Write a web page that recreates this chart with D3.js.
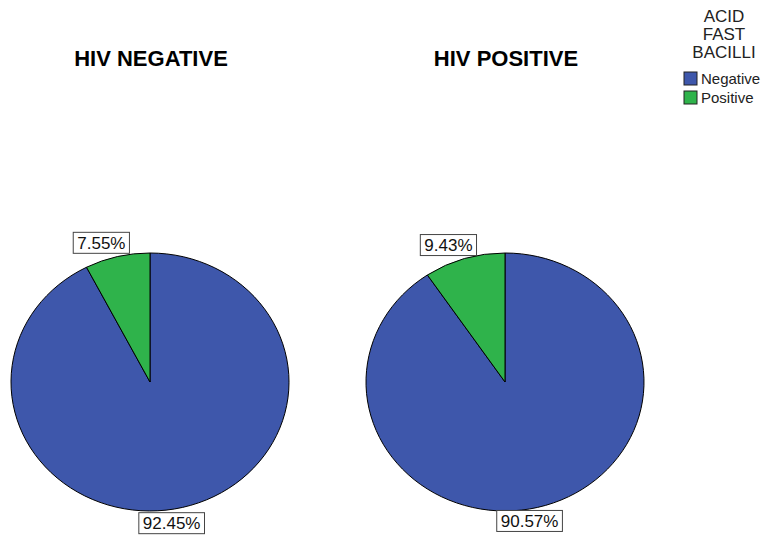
<!DOCTYPE html>
<html>
<head>
<meta charset="utf-8">
<style>
  body { margin: 0; background: #fff; }
  text { font-family: Arial, "Liberation Sans", sans-serif; }
  .slice { stroke: #000; stroke-width: 1; vector-effect: non-scaling-stroke; }
  .lbl rect { fill: #fff; stroke: #444; stroke-width: 1; }
</style>
</head>
<body>
<script src="https://d3js.org/d3.v7.min.js"></script>
<script>
// data
var panels = ["HIV NEGATIVE", "HIV POSITIVE"];
var categories = ["Negative", "Positive"];
var negValues = [92.45, 7.55];
var posValues = [90.57, 9.43];
var legendTitle = ["ACID", "FAST", "BACILLI"];
var colors = ["#3e57ab", "#2fb34b"];

var width = 769, height = 538;
var rx = 139, ry = 129, cy = 382;

var svg = d3.select("body").append("svg")
    .attr("width", width)
    .attr("height", height);

var color = d3.scaleOrdinal().domain(categories).range(colors);
var cx = d3.scalePoint().domain(panels).range([150, 505]);

var pie = d3.pie().sort(null).value(function(d) { return d; });
var arc = d3.arc().innerRadius(0).outerRadius(rx);

[negValues, posValues].forEach(function(vals, p) {
    var name = panels[p];
    var x0 = cx(name);

    svg.append("text")
        .attr("x", x0 + 1)
        .attr("y", 66)
        .attr("text-anchor", "middle")
        .attr("font-size", 22)
        .attr("font-weight", "bold")
        .text(name);

    var g = svg.append("g")
        .attr("transform", "translate(" + x0 + "," + cy + ") scale(1," + (ry / rx) + ")");

    var arcs = pie(vals);
    g.selectAll("path")
        .data(arcs)
        .enter().append("path")
        .attr("class", "slice")
        .attr("fill", function(d, i) { return color(categories[i]); })
        .attr("d", arc);

    // value labels
    var lbl = svg.selectAll(".lbl-" + p)
        .data(arcs)
        .enter().append("g")
        .attr("class", "lbl lbl-" + p)
        .attr("transform", function(d) {
            var a = (d.startAngle + d.endAngle) / 2;
            var x = x0 + rx * Math.sin(a) - 16 + (p === 0 && Math.cos(a) < 0 ? 5 : 0);
            var y = cy - ry * 1.11 * Math.cos(a) + (Math.cos(a) < 0 ? 2 : 0);
            return "translate(" + x + "," + y + ")";
        });
    lbl.append("text")
        .attr("text-anchor", "middle")
        .attr("dy", "0.35em")
        .attr("font-size", 17)
        .attr("fill", "#111")
        .text(function(d) { return d.value.toFixed(2) + "%"; });
    lbl.each(function() {
        var b = d3.select(this).select("text").node().getBBox();
        d3.select(this).insert("rect", "text")
            .attr("x", b.x - 4)
            .attr("y", -10.5)
            .attr("width", b.width + 8)
            .attr("height", 21);
    });
});

// legend
var leg = svg.append("g");
leg.selectAll(".lt")
    .data(legendTitle)
    .enter().append("text")
    .attr("x", 724)
    .attr("y", function(d, i) { return 22 + i * 18; })
    .attr("text-anchor", "middle")
    .attr("font-size", 17)
    .attr("fill", "#222")
    .text(function(d) { return d; });

var item = leg.selectAll(".li")
    .data(categories)
    .enter().append("g")
    .attr("transform", function(d, i) { return "translate(684," + (72 + i * 19) + ")"; });
item.append("rect")
    .attr("width", 13)
    .attr("height", 13)
    .attr("fill", function(d) { return color(d); })
    .attr("stroke", "#222");
item.append("text")
    .attr("x", 17)
    .attr("y", 7)
    .attr("dy", "0.35em")
    .attr("font-size", 15)
    .attr("fill", "#222")
    .text(function(d) { return d; });
</script>
</body>
</html>
